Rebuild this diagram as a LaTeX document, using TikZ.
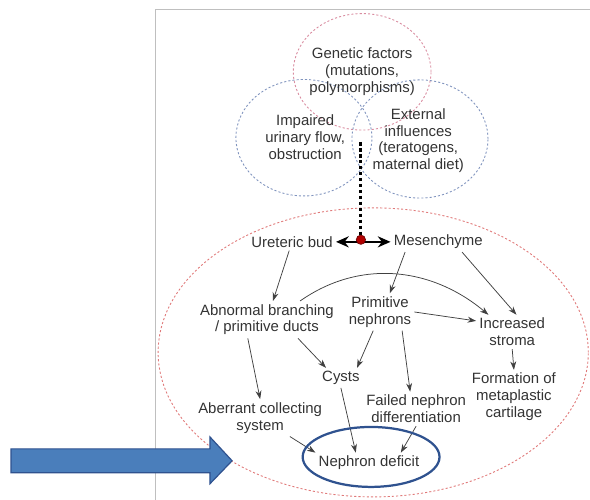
\documentclass[tikz,border=0pt]{standalone}
\usepackage{fontspec}
\setmainfont{Liberation Sans}
\usetikzlibrary{shapes.geometric,arrows.meta}
\definecolor{ringblue}{HTML}{2F528F}
\definecolor{pointerfill}{HTML}{4A7EBB}
\definecolor{pinkline}{HTML}{D98CA0}
\definecolor{blueline}{HTML}{8094BE}
\definecolor{redline}{HTML}{E07A7A}
\begin{document}
\begin{tikzpicture}[>=stealth,
  txt/.style={align=center,text=black!80,font=\fontsize{10}{11.3}\selectfont,inner sep=2pt},
  factor/.style={line width=0.6pt,dash pattern=on 1.4pt off 1.4pt},
  flow/.style={-{Stealth[length=2mm,width=1.4mm]},line width=0.5pt,black!75},
  ring/.style={ellipse,draw=ringblue,line width=1.5pt,minimum width=3.22cm,minimum height=1.41cm},
  knot/.style={circle,fill=red!70!black,draw=red!40!black,inner sep=0pt,minimum size=2.2mm}]
\useasboundingbox (0,0) rectangle (13.88,11.76);
\draw[black!25] (3.65,0) -- (3.65,11.55) -- (13.88,11.55);
% the three factors
\draw[factor,pinkline] (8.52,10.07) ellipse (1.62 and 1.37);
\draw[factor,blueline] (7.15,8.52) ellipse (1.60 and 1.37);
\draw[factor,blueline] (9.88,8.49) ellipse (1.60 and 1.39);
\node[txt] (gen) at (8.52,10.07) {Genetic factors\\(mutations,\\polymorphisms)};
\node[txt] (imp) at (7.18,8.54) {Impaired\\urinary flow,\\obstruction};
\node[txt] (ext) at (9.84,8.45) {External\\influences\\(teratogens,\\maternal diet)};
% kidney development
\draw[factor,redline] (8.78,3.47) ellipse (5.06 and 3.40);
\coordinate (top) at (8.49,8.42);
\coordinate (hub) at (8.49,6.12);
\node[txt] (ub) at (6.87,6.07) {Ureteric bud};
\node[txt] (mes) at (10.31,6.07) {Mesenchyme};
\node[txt] (ab) at (6.28,4.24) {Abnormal branching\\/ primitive ducts};
\node[txt] (pn) at (8.94,4.42) {Primitive\\nephrons};
\node[txt] (is) at (12.05,3.95) {Increased\\stroma};
\node[txt] (cy) at (8.02,2.87) {Cysts};
\node[txt] (fd) at (9.79,2.14) {Failed nephron\\differentiation};
\node[txt] (fm) at (12.09,2.42) {Formation of\\metaplastic\\cartilage};
\node[txt] (ac) at (6.12,1.93) {Aberrant collecting\\system};
\node[txt] (nd) at (8.68,0.87) {Nephron deficit};
\draw[line width=2pt,dash pattern=on 2.4pt off 1.6pt] (top) -- (hub);
\draw[{Stealth[length=3mm,width=2.6mm]}-{Stealth[length=3mm,width=2.6mm]},line width=1.6pt] (ub) -- (mes);
\node[knot] (dot) at (hub) {};
\draw[flow] (ub) -- (ab);
\draw[flow] ([xshift=-7.8mm]mes.south) -- ([xshift=2.3mm]pn.north);
\draw[flow] ([xshift=5.6mm]mes.south) -- ([xshift=1mm]is.north);
\draw[flow] ([xshift=7.8mm]ab.north) to[out=35,in=140] ([xshift=-5.6mm]is.north);
\draw[flow] (pn.east) -- ([yshift=2.6mm]is.west);
\draw[flow] ([xshift=7.3mm]ab.south) -- ([xshift=-3.5mm]cy.north);
\draw[flow] ([xshift=-1.6mm]pn.south) -- ([xshift=3.8mm]cy.north);
\draw[flow] ([xshift=5.2mm]pn.south) -- ([xshift=-1.4mm]fd.north);
\draw[flow] ([xshift=-4.5mm]ab.south) -- (ac.north);
\draw[flow] (is.south) -- (fm.north);
\draw[flow] (cy.south) -- ([xshift=-3.1mm]nd.north);
\draw[flow] (fd.south) -- ([xshift=7.5mm]nd.north);
\draw[flow] ([xshift=7mm]ac.south) -- (nd.north west);
\node[ring] (circ) at ([xshift=0.5mm,yshift=1.4mm]nd.center) {};
% pointer
\draw[draw=ringblue,fill=pointerfill,line width=0.8pt]
  (0.26,1.20) -- (4.94,1.20) -- (4.94,1.48) -- (5.46,0.92) -- (4.94,0.38)
  -- (4.94,0.64) -- (0.26,0.64) -- cycle;
\end{tikzpicture}
\end{document}
